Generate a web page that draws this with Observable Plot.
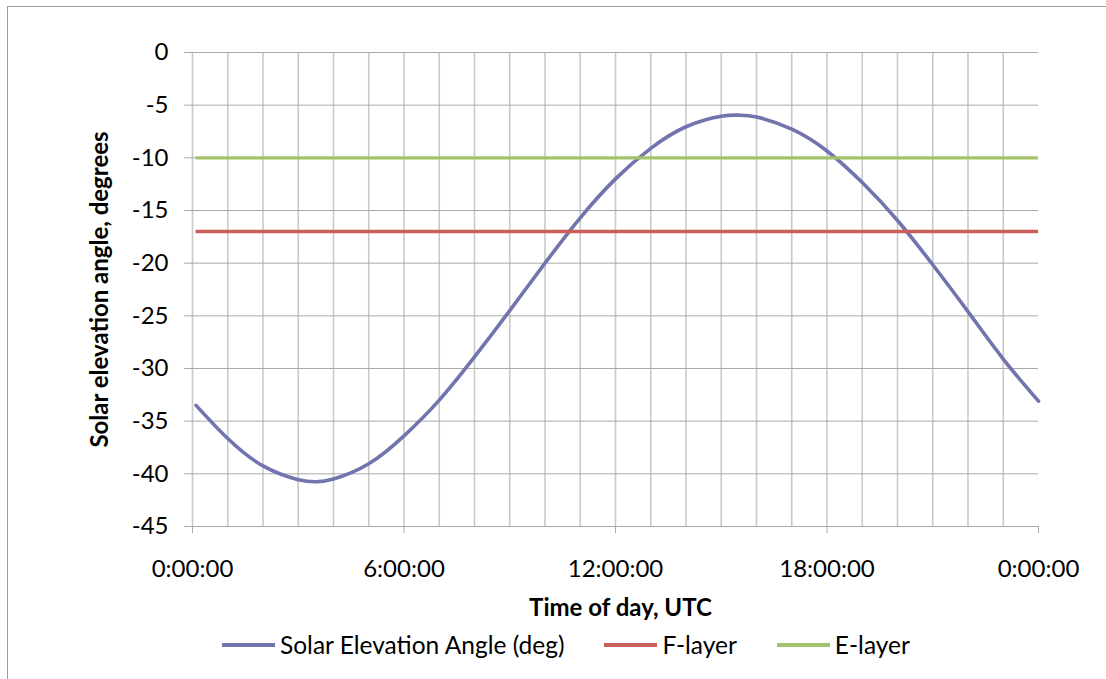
<!DOCTYPE html>
<html>
<head>
<meta charset="utf-8">
<script src="https://cdn.jsdelivr.net/npm/d3@7"></script>
<script src="https://cdn.jsdelivr.net/npm/@observablehq/plot@0.6"></script>
<style>
  html, body { margin: 0; padding: 0; background: #fff; }
  #chart { position: relative; width: 1106px; height: 679px; overflow: hidden; font-family: Lato, "Noto Sans", sans-serif; }
  #frame { position: absolute; left: 7px; top: 6px; right: -2px; bottom: -2px; border-top: 1px solid #9e9e9e; border-left: 1px solid #9e9e9e; }
  #plot { position: absolute; left: 0; top: 0; }
  #legend { position: absolute; left: 222px; top: 630px; display: flex; align-items: center; font-size: 24.5px; line-height: 30px; color: #000; white-space: nowrap; }
  .item { display: flex; align-items: center; margin-right: 40px; }
  .swatch { width: 53px; height: 4px; margin-right: 5px; }
</style>
</head>
<body>
<div id="chart">
  <div id="frame"></div>
  <div id="plot"></div>
  <div id="legend"></div>
</div>
<script>
// Time of day (hours, UTC) and solar elevation angle (degrees)
const hours = [0.1, 1, 2, 3, 3.5, 4, 5, 6, 7, 8, 9, 10, 11, 12, 13, 14, 15, 15.5, 16, 17, 18, 19, 20, 21, 22, 23, 24];
const elevation = [-33.5, -36.65, -39.25, -40.55, -40.75, -40.5, -39.05, -36.4, -33.0, -28.9, -24.5, -20.0, -15.7, -12.0, -9.1, -7.05, -6.05, -5.95, -6.12, -7.28, -9.35, -12.35, -15.95, -20.15, -24.6, -29.1, -33.1];

// Ionospheric layer thresholds (degrees)
const fLayer = -17;
const eLayer = -10;

const seriesNames = ["Solar Elevation Angle (deg)", "F-layer", "E-layer"];
const seriesColors = ["#7174ad", "#c95f58", "#a3c36a"];

// Axis ticks
const yTicks = [0, -5, -10, -15, -20, -25, -30, -35, -40, -45];
const xTicks = [0, 6, 12, 18, 24];
const hourGrid = d3.range(0, 24);

const solar = hours.map((h, i) => ({hour: h, value: elevation[i]}));
const first = hours[0];
const last = hours[hours.length - 1];

const plot = Plot.plot({
  width: 1106,
  height: 625,
  marginTop: 52,
  marginLeft: 192,
  marginRight: 68,
  marginBottom: 99,
  style: {fontFamily: "Lato, 'Noto Sans', sans-serif", fontSize: "24px", color: "#000", background: "transparent", overflow: "visible"},
  x: {type: "linear", domain: [0, 24]},
  y: {domain: [-45, 0]},
  marks: [
    Plot.gridX(hourGrid, {stroke: "#c9c9c9", strokeWidth: 1.6, strokeOpacity: 1}),
    Plot.gridY(yTicks, {stroke: "#a9a9a9", strokeWidth: 1, strokeOpacity: 1}),
    Plot.axisY(yTicks, {tickSize: 8, tickPadding: 16, stroke: "#a9a9a9", fill: "#000", label: null, tickFormat: d => `${d}`}),
    Plot.axisX(xTicks, {tickSize: 7, tickPadding: 26, stroke: "#a9a9a9", fill: "#000", label: null, tickFormat: d => `${d % 24}:00:00`}),
    Plot.line(solar, {x: "hour", y: "value", curve: "natural", stroke: seriesColors[0], strokeWidth: 3.6}),
    Plot.ruleY([fLayer], {x1: first, x2: last, stroke: seriesColors[1], strokeWidth: 3.4}),
    Plot.ruleY([eLayer], {x1: first, x2: last, stroke: seriesColors[2], strokeWidth: 3.4}),
    Plot.text(["Solar elevation angle, degrees"], {text: d => d, frameAnchor: "left", dx: -92, rotate: -90, textAnchor: "middle", lineAnchor: "middle", fontWeight: "bold", fontSize: 24}),
    Plot.text(["Time of day, UTC"], {text: d => d, frameAnchor: "bottom", dx: 5, dy: 82, textAnchor: "middle", lineAnchor: "middle", fontWeight: "bold", fontSize: 24})
  ]
});
document.getElementById("plot").appendChild(plot);

// Legend below the plot
const legend = d3.select("#legend");
seriesNames.forEach((name, i) => {
  const item = legend.append("div").attr("class", "item");
  item.append("div").attr("class", "swatch").style("background", seriesColors[i]);
  item.append("span").text(name);
});
</script>
</body>
</html>
